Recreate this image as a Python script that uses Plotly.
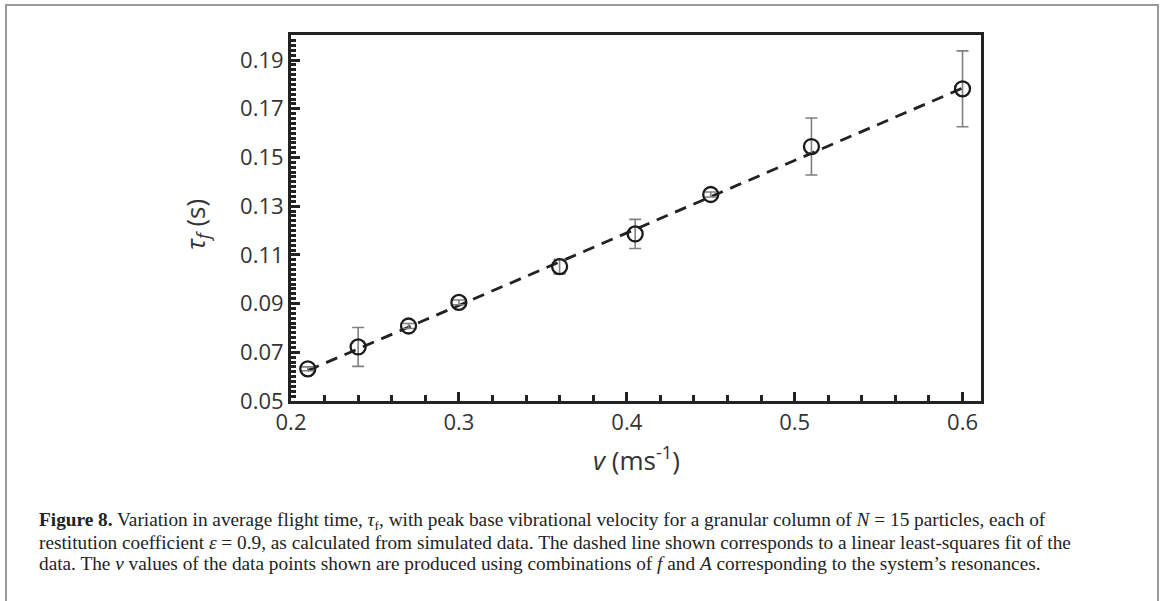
import plotly.graph_objects as go

# ---- data ----
v_vals = [0.21, 0.24, 0.27, 0.30, 0.36, 0.405, 0.45, 0.51, 0.60]
tau_vals = [0.0632, 0.0722, 0.0808, 0.0905, 0.1052, 0.1186, 0.1348, 0.1545, 0.1782]
tau_err = [0.0008, 0.0080, 0.0010, 0.0010, 0.0030, 0.0060, 0.0010, 0.0117, 0.0156]
fit_v = [0.21, 0.60]
fit_tau = [0.0625, 0.1785]

x_ticks = [0.2, 0.3, 0.4, 0.5, 0.6]
x_ticklabels = ["0.2", "0.3", "0.4", "0.5", "0.6"]
y_ticks = [0.05, 0.07, 0.09, 0.11, 0.13, 0.15, 0.17, 0.19]
y_ticklabels = ["0.05", "0.07", "0.09", "0.11", "0.13", "0.15", "0.17", "0.19"]

caption_lines = [
    "<b>Figure 8.</b> Variation in average flight time, <i>τ</i><sub>f</sub>, with peak base vibrational velocity for a granular column of <i>N</i> = 15 particles, each of",
    "restitution coefficient <i>ε</i> = 0.9, as calculated from simulated data. The dashed line shown corresponds to a linear least-squares fit of the",
    "data. The <i>v</i> values of the data points shown are produced using combinations of <i>f</i> and <i>A</i> corresponding to the system’s resonances.",
]

W, H = 1166, 601
L, R, T, B = 291, 981, 35, 401  # plot area in pixels


def px(x):
    return (x - L) / (R - L)


def py(y):
    return (B - y) / (B - T)


fig = go.Figure()

fig.add_trace(go.Scatter(
    x=fit_v, y=fit_tau, mode="lines",
    line=dict(color="#222222", width=2.8, dash="12px,8px"),
    hoverinfo="skip", showlegend=False,
))

fig.add_trace(go.Scatter(
    x=v_vals, y=tau_vals, mode="markers",
    marker=dict(symbol="circle-open", size=15, color="#1a1a1a", line=dict(width=2.3, color="#1a1a1a")),
    error_y=dict(type="data", array=tau_err, visible=True, color="#808080", thickness=1.6, width=6),
    showlegend=False,
))

tick_font = dict(family="Open Sans, sans-serif", size=22, color="#333333")

fig.update_xaxes(
    range=[0.2, 0.611], tickmode="array", tickvals=x_ticks, ticktext=x_ticklabels,
    ticks="inside", ticklen=9, tickwidth=3, tickcolor="#222222",
    showline=True, linewidth=3, linecolor="#222222", mirror=True,
    showgrid=False, zeroline=False, tickfont=tick_font,
    minor=dict(ticks="inside", ticklen=6, tickwidth=2.5, tickcolor="#222222", dtick=0.02, tick0=0.2, showgrid=False),
)
fig.update_yaxes(
    range=[0.05, 0.2003], tickmode="array", tickvals=y_ticks, ticktext=y_ticklabels,
    ticks="inside", ticklen=9, tickwidth=3, tickcolor="#222222",
    showline=True, linewidth=3, linecolor="#222222", mirror=True,
    showgrid=False, zeroline=False, tickfont=tick_font,
    minor=dict(ticks="inside", ticklen=5, tickwidth=2.5, tickcolor="#222222", dtick=0.002, tick0=0.05, showgrid=False),
)

annotations = [
    dict(text="<i>τ<sub>f</sub></i> (s)", x=px(196), y=py(225), xref="paper", yref="paper",
         textangle=-90, showarrow=False, xanchor="center", yanchor="middle",
         font=dict(family="Open Sans, sans-serif", size=26, color="#333333")),
    dict(text="<i>v</i> (ms<sup>-1</sup>)", x=px(636), y=py(459), xref="paper", yref="paper",
         showarrow=False, xanchor="center", yanchor="middle",
         font=dict(family="Open Sans, sans-serif", size=26, color="#333333")),
]
for i, line in enumerate(caption_lines):
    annotations.append(dict(
        text=line, x=px(37), y=py(521 + i * 21), xref="paper", yref="paper",
        showarrow=False, xanchor="left", yanchor="middle", align="left",
        font=dict(family="Liberation Serif, serif", size=19.3, color="#222222"),
    ))

fig.update_layout(
    width=W, height=H,
    margin=dict(l=L, r=W - R, t=T, b=H - B, pad=0),
    paper_bgcolor="white", plot_bgcolor="white",
    annotations=annotations,
    shapes=[dict(type="rect", xref="paper", yref="paper",
                 x0=px(6), x1=px(1158), y0=py(640), y1=py(5),
                 line=dict(color="#9a9a9a", width=2), fillcolor="rgba(0,0,0,0)", layer="below")],
)

fig.write_html(
    "out.html",
    config={"displayModeBar": False},
    post_script="document.body.style.margin='0px';document.body.style.overflow='hidden';",
)
